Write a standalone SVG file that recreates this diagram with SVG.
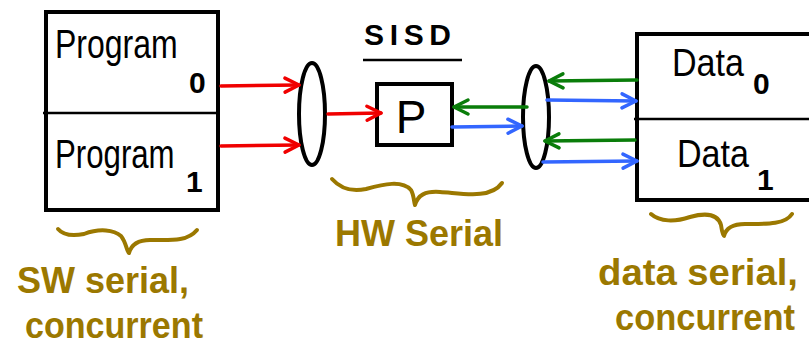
<svg xmlns="http://www.w3.org/2000/svg" width="809" height="347" viewBox="0 0 809 347">
<style>
.box{fill:#fff;stroke:#000;stroke-width:4}
.div{stroke:#000;stroke-width:2.5;fill:none}
.ell{fill:#fff;stroke:#000;stroke-width:4}
.t{font-family:"Liberation Sans",Arial,sans-serif;fill:#000}
.g{font-family:"Liberation Sans",Arial,sans-serif;fill:#9b7800;font-weight:bold}
.brace{fill:none;stroke:#9b7800;stroke-width:4;stroke-linecap:round;stroke-linejoin:round}
.red{stroke:#f00000;stroke-width:3.5;fill:none;stroke-linecap:round;marker-end:url(#hr)}
.grn{stroke:#0a7d0a;stroke-width:3.5;fill:none;stroke-linecap:round;marker-end:url(#hg)}
.blu{stroke:#3366ff;stroke-width:3.5;fill:none;stroke-linecap:round;marker-end:url(#hb)}
</style>
<defs>
<marker id="hr" markerUnits="userSpaceOnUse" markerWidth="20" markerHeight="20" refX="15" refY="8" orient="auto" overflow="visible"><path d="M1,1 L15,8 L1,15" fill="none" stroke="#f00000" stroke-width="3.5" stroke-linecap="round" stroke-linejoin="round"/></marker>
<marker id="hg" markerUnits="userSpaceOnUse" markerWidth="20" markerHeight="20" refX="15" refY="8" orient="auto" overflow="visible"><path d="M1,1 L15,8 L1,15" fill="none" stroke="#0a7d0a" stroke-width="3.5" stroke-linecap="round" stroke-linejoin="round"/></marker>
<marker id="hb" markerUnits="userSpaceOnUse" markerWidth="20" markerHeight="20" refX="15" refY="8" orient="auto" overflow="visible"><path d="M1,1 L15,8 L1,15" fill="none" stroke="#3366ff" stroke-width="3.5" stroke-linecap="round" stroke-linejoin="round"/></marker>
</defs>
<rect width="809" height="347" fill="#fff"/>

<g id="programs">
<rect class="box" x="46" y="12" width="172" height="198"/>
<path class="div" d="M43,113 L218,113"/>
<text class="t" transform="translate(55,58) scale(0.8,1)" font-size="40">Program</text>
<text class="t" x="189" y="93" font-size="30" font-weight="bold">0</text>
<text class="t" transform="translate(55,168) scale(0.78,1)" font-size="40">Program</text>
<text class="t" x="186" y="192" font-size="30" font-weight="bold">1</text>
</g>

<g id="sisd">
<text class="t" x="364" y="45" font-size="30" font-weight="bold" letter-spacing="5" textLength="92" lengthAdjust="spacing">SISD</text>
<path class="div" d="M363,60 L462,60" stroke-width="3.5"/>
</g>

<g id="ellipse-left">
<ellipse class="ell" cx="312" cy="114" rx="13" ry="51"/>
</g>

<g id="processor">
<rect class="box" x="377" y="84" width="75" height="61"/>
<text class="t" x="411" y="133" font-size="46" text-anchor="middle">P</text>
</g>

<g id="ellipse-right">
<ellipse class="ell" cx="536" cy="117" rx="13" ry="51"/>
</g>

<g id="data">
<rect class="box" x="637" y="34" width="180" height="166"/>
<path class="div" d="M634,119 L812,119"/>
<text class="t" x="672" y="76" font-size="38" textLength="72" lengthAdjust="spacingAndGlyphs">Data</text>
<text class="t" x="753" y="94" font-size="30" font-weight="bold">0</text>
<text class="t" x="677" y="167" font-size="38" textLength="72" lengthAdjust="spacingAndGlyphs">Data</text>
<text class="t" x="757" y="190" font-size="30" font-weight="bold">1</text>
</g>

<g id="connectors">
<path class="red" d="M221,86 L299,85"/>
<path class="red" d="M221,146 L299,145"/>
<path class="red" d="M328,114 L381,113"/>
<path class="grn" d="M527,107 L454,107"/>
<path class="blu" d="M452,127 L522,126"/>
<path class="grn" d="M637,80 L549,81"/>
<path class="blu" d="M547,100 L636,101"/>
<path class="grn" d="M635,140 L545,141"/>
<path class="blu" d="M543,162 L637,161"/>
</g>

<g id="label-sw">
<path class="brace" d="M58,229 C64,236 74,236 84,234 C100,228 114,230 121,236 C126,242 127,252 129,253 C131,246 136,240 150,240 C170,240 187,242 197,230"/>
<text class="g" x="17" y="293" font-size="36" textLength="172" lengthAdjust="spacingAndGlyphs">SW serial,</text>
<text class="g" x="25" y="338" font-size="36" textLength="178" lengthAdjust="spacingAndGlyphs">concurrent</text>
</g>

<g id="label-hw">
<path class="brace" d="M332,179 C340,188 352,192 366,189 C384,184 402,180 411,190 C414,195 414,203 415,205 C418,195 425,191 440,192 C460,193 490,200 502,183"/>
<text class="g" x="335" y="246" font-size="36" textLength="168" lengthAdjust="spacingAndGlyphs">HW Serial</text>
</g>

<g id="label-data">
<path class="brace" d="M651,214 C660,222 675,222 690,217 C708,212 718,215 721,225 C722,232 723,236 724,236 C726,228 732,224 745,224 C765,224 785,225 792,214"/>
<text class="g" x="598" y="285" font-size="36" textLength="200" lengthAdjust="spacingAndGlyphs">data serial,</text>
<text class="g" x="615" y="330" font-size="36" textLength="180" lengthAdjust="spacingAndGlyphs">concurrent</text>
</g>
</svg>
